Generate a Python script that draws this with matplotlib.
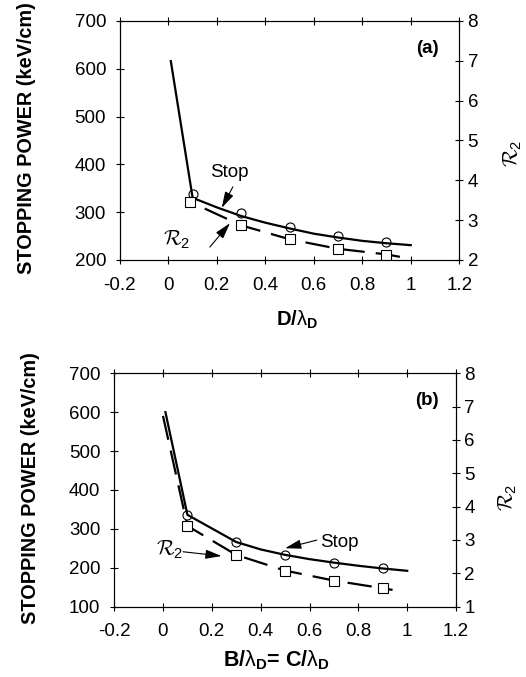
import numpy as np
import matplotlib
matplotlib.use('Agg')
import matplotlib.pyplot as plt

plt.rcParams['font.family'] = ['Liberation Sans', 'DejaVu Sans']
plt.rcParams['mathtext.fontset'] = 'custom'
plt.rcParams['mathtext.rm'] = 'Liberation Sans'
plt.rcParams['mathtext.bf'] = 'Liberation Sans:bold'
plt.rcParams['mathtext.it'] = 'Liberation Sans:italic'
plt.rcParams['mathtext.cal'] = 'cmsy10'

# panel (a): stopping power vs D/lambda_D
a_line_x = [0.01, 0.1, 0.2, 0.3, 0.4, 0.5, 0.6, 0.7, 0.8, 0.9, 1.0]
a_line_y = [616, 330, 310, 292, 278, 266, 255, 247, 240, 235, 231]
a_circ_x = [0.1, 0.3, 0.5, 0.7, 0.9]
a_circ_y = [337, 298, 270, 250, 237]
a_r2_x = [0.15, 0.3, 0.5, 0.7, 0.9, 0.99]
a_r2_y = [3.29, 2.87, 2.52, 2.28, 2.14, 2.04]
a_sq_x = [0.09, 0.3, 0.5, 0.7, 0.9]
a_sq_y = [3.45, 2.87, 2.52, 2.28, 2.13]

# panel (b): stopping power vs B/lambda_D = C/lambda_D
b_line_x = [0.01, 0.1, 0.2, 0.3, 0.4, 0.5, 0.6, 0.7, 0.8, 0.9, 1.0]
b_line_y = [600, 336, 301, 266, 247, 233, 222, 213, 205, 198, 192]
b_circ_x = [0.1, 0.3, 0.5, 0.7, 0.9]
b_circ_y = [336, 266, 233, 213, 198]
b_r2_x = [0.0, 0.1, 0.3, 0.5, 0.7, 0.9, 0.94]
b_r2_y = [6.72, 3.42, 2.55, 2.08, 1.78, 1.55, 1.5]
b_sq_x = [0.1, 0.3, 0.5, 0.7, 0.9]
b_sq_y = [3.42, 2.55, 2.08, 1.78, 1.55]

xticks = [-0.2, 0, 0.2, 0.4, 0.6, 0.8, 1, 1.2]
xtick_labels = ['-0.2', '0', '0.2', '0.4', '0.6', '0.8', '1', '1.2']

R2 = r'$\mathcal{R}_\mathrm{2}$'

fig = plt.figure(figsize=(5.26, 6.77), dpi=100)


def style_axes(ax, ax2):
    for a in (ax, ax2):
        for s in a.spines.values():
            s.set_linewidth(0.8)
    ax.tick_params(direction='inout', length=6, width=0.8, labelsize=13.5,
                   top=True, right=False)
    ax.tick_params(axis='y', pad=7)
    ax.tick_params(axis='x', pad=9)
    ax2.tick_params(direction='inout', length=6, width=0.8, labelsize=13.5, pad=3)


def make_panel(rect, line_x, line_y, circ_x, circ_y, r2_x, r2_y, sq_x, sq_y,
               left_lim, right_lim, left_ticks, right_ticks):
    ax = fig.add_axes(rect)
    ax2 = ax.twinx()
    ax.plot(line_x, line_y, color='k', lw=1.6, zorder=3)
    ax.plot(circ_x, circ_y, 'o', ms=6.5, mfc='none', mec='k', mew=0.8, zorder=4)
    ax2.plot(r2_x, r2_y, color='k', lw=1.6, dashes=(11, 5))
    ax2.plot(sq_x, sq_y, 's', ms=7, mfc='white', mec='k', mew=0.8)
    ax.set_xlim(-0.2, 1.2)
    ax.set_ylim(*left_lim)
    ax2.set_ylim(*right_lim)
    ax.set_xticks(xticks)
    ax.set_xticklabels(xtick_labels)
    ax.set_yticks(left_ticks)
    ax2.set_yticks(right_ticks)
    style_axes(ax, ax2)
    return ax, ax2


arrow = dict(arrowstyle='-|>,head_length=0.7,head_width=0.2', lw=0.8,
             color='k', mutation_scale=14, shrinkA=0, shrinkB=0)

# top panel
ax, ax2 = make_panel([0.228, 0.616, 0.645, 0.353],
                     a_line_x, a_line_y, a_circ_x, a_circ_y,
                     a_r2_x, a_r2_y, a_sq_x, a_sq_y,
                     (200, 700), (2, 8), range(200, 701, 100), range(2, 9))
ax.text(0.25, 384, 'Stop', fontsize=13.5, ha='center', va='center')
ax.annotate('', xy=(0.22, 309), xytext=(0.266, 353), arrowprops=arrow)
ax.text(0.035, 242, R2, fontsize=15, ha='center', va='center')
ax.annotate('', xy=(0.254, 277), xytext=(0.171, 227), arrowprops=arrow)
ax.text(1.07, 643, '(a)', fontsize=13.5, fontweight='bold', ha='center', va='center')

fig.text(27 / 526, 1 - 138 / 677, 'STOPPING POWER (keV/cm)', rotation=90,
         fontsize=14.3, fontweight='bold', ha='center', va='center')
fig.text(513 / 526, 1 - 153 / 677, R2, rotation=90,
         fontsize=15, ha='center', va='center')
fig.text(297 / 526, 1 - 320 / 677, r'D/$\mathrm{\lambda}_\mathbf{D}$',
         fontsize=14.5, fontweight='bold', ha='center', va='center')

# bottom panel
bx, bx2 = make_panel([0.217, 0.104, 0.650, 0.3447],
                     b_line_x, b_line_y, b_circ_x, b_circ_y,
                     b_r2_x, b_r2_y, b_sq_x, b_sq_y,
                     (100, 700), (1, 8), range(100, 701, 100), range(1, 9))
bx.text(0.724, 264, 'Stop', fontsize=13.5, ha='center', va='center')
bx.annotate('', xy=(0.50, 250), xytext=(0.63, 271), arrowprops=arrow)
bx.text(0.029, 246, R2, fontsize=15, ha='center', va='center')
bx.annotate('', xy=(0.24, 230), xytext=(0.082, 241), arrowprops=arrow)
bx.text(1.079, 631, '(b)', fontsize=13.5, fontweight='bold', ha='center', va='center')

fig.text(31 / 526, 1 - 488 / 677, 'STOPPING POWER (keV/cm)', rotation=90,
         fontsize=14.3, fontweight='bold', ha='center', va='center')
fig.text(508 / 526, 1 - 497 / 677, R2, rotation=90,
         fontsize=15, ha='center', va='center')
fig.text(277 / 526, 1 - 660 / 677,
         r'B/$\mathrm{\lambda}_\mathbf{D}$= C/$\mathrm{\lambda}_\mathbf{D}$',
         fontsize=15.5, fontweight='bold', ha='center', va='center')

fig.savefig('out.png', dpi=100)
